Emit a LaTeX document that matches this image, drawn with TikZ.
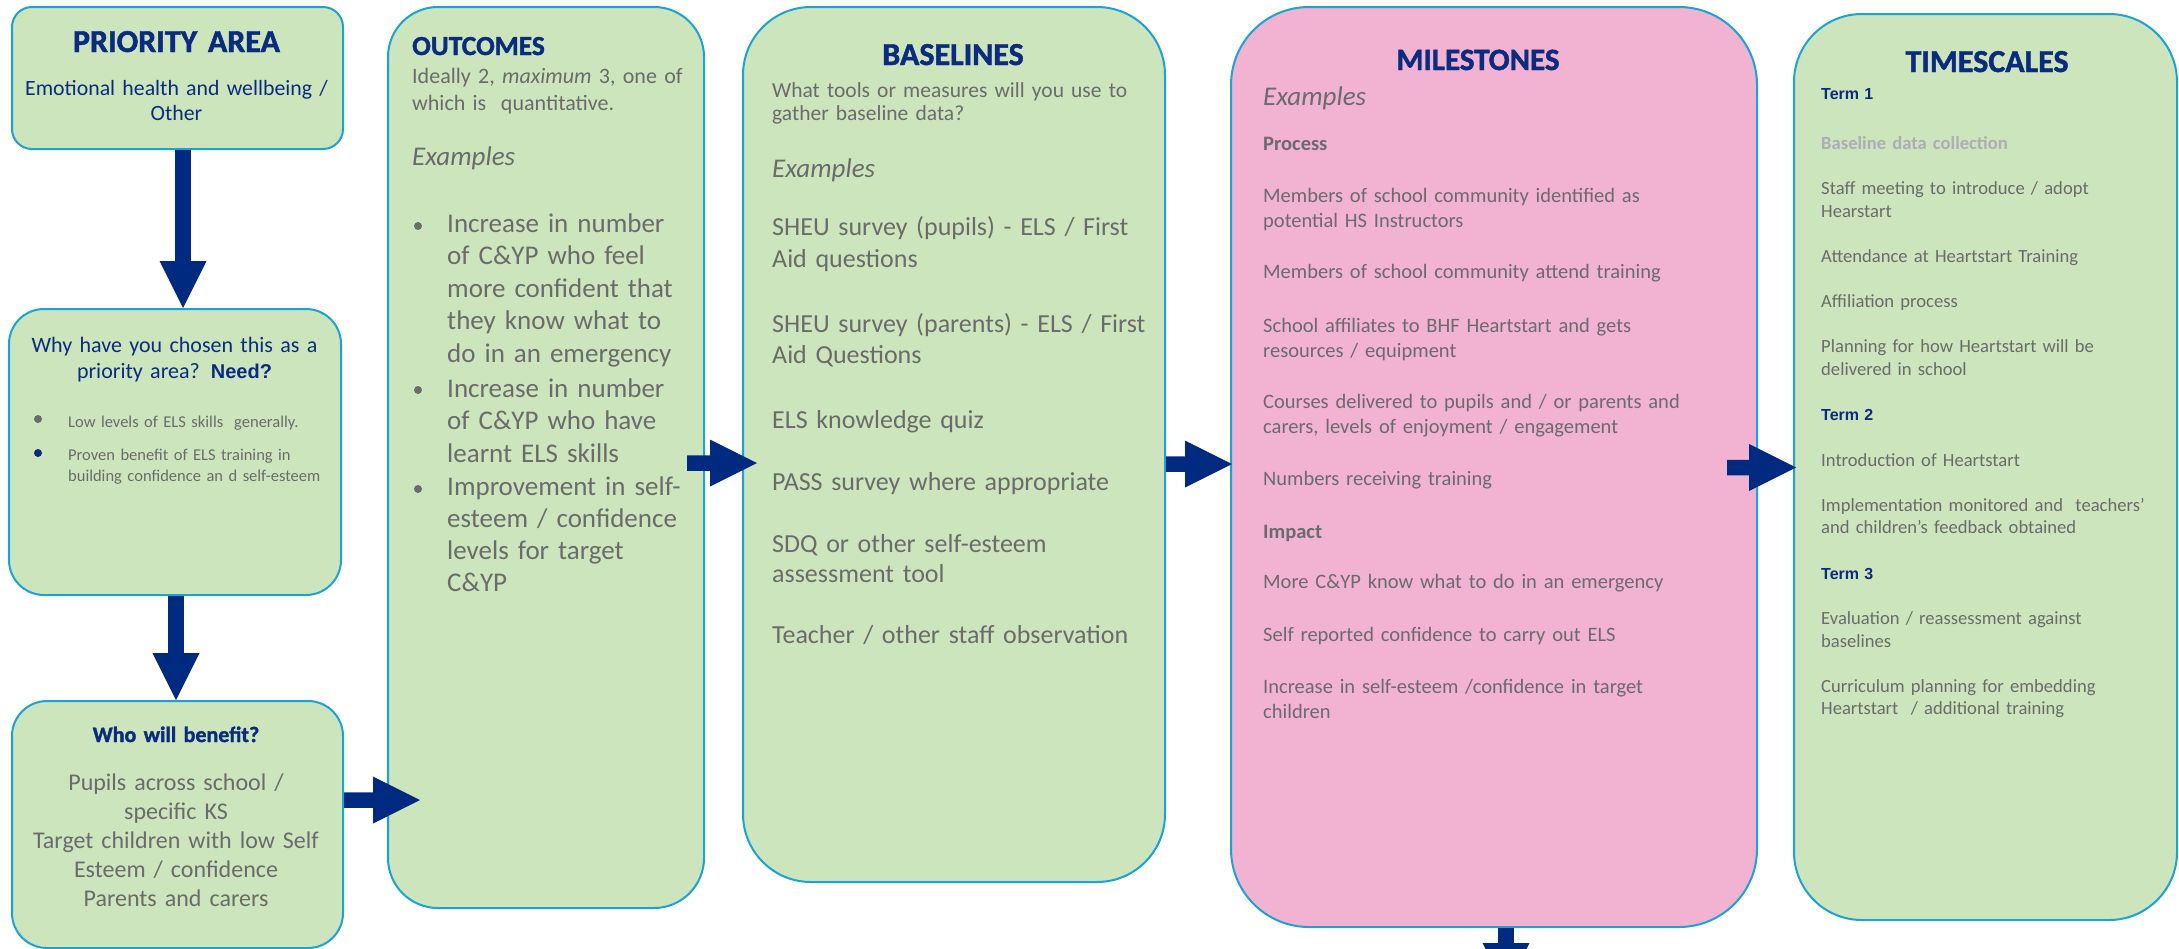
\documentclass[tikz,border=0pt]{standalone}
\usepackage{fontspec}
\setmainfont{Carlito}
\newfontfamily\arialf{Liberation Sans}
\newfontfamily\heavyf{Carlito}[BoldFeatures={FakeBold=1.5}]
\usetikzlibrary{arrows.meta,calc}
\definecolor{greenf}{HTML}{CCE5BC}
\definecolor{pinkf}{HTML}{F2B2D2}
\definecolor{bordc}{HTML}{1AA3D4}
\definecolor{arrowblue}{HTML}{002A80}
\definecolor{navyt}{HTML}{0B2C7E}
\definecolor{greyt}{HTML}{6B6B6B}
\definecolor{lgreyt}{HTML}{ADADB5}
\newcommand\fsz[2]{\fontsize{#1bp}{#2bp}\selectfont}
\tikzset{
  box/.style={draw=bordc, line width=2bp, rectangle, anchor=north west, inner sep=0pt},
  gbox/.style={box, fill=greenf},
  pbox/.style={box, fill=pinkf},
  lft/.style={inner sep=0pt, anchor=base west, align=left, text width=600bp},
  ctr/.style={inner sep=0pt, anchor=base, align=center, text width=600bp},
  dot/.style={circle, fill=#1, inner sep=0pt, minimum size=8bp},
  bigarrow/.style={draw=arrowblue, line width=15.5bp, -{Triangle[length=47bp,width=47bp,line width=0pt]}}
}
\begin{document}
\begin{tikzpicture}[x=1bp,y=-1bp]
\useasboundingbox (0,0) rectangle (2179,948);
\fill[white] (0,0) rectangle (2179,948);

% boxes
\node[gbox, rounded corners=20bp, minimum width=331bp, minimum height=142bp] (prio) at (11,6) {};
\node[gbox, rounded corners=35bp, minimum width=332bp, minimum height=286bp] (why) at (8,308) {};
\node[gbox, rounded corners=35bp, minimum width=331bp, minimum height=247bp] (who) at (11,700) {};
\node[gbox, rounded corners=50bp, minimum width=316bp, minimum height=901bp] (outc) at (387,6) {};
\node[gbox, rounded corners=68bp, minimum width=422bp, minimum height=875bp] (base) at (742,6) {};
\node[pbox, rounded corners=78bp, minimum width=526bp, minimum height=920bp] (mile) at (1230,6) {};
\node[gbox, rounded corners=68bp, minimum width=383bp, minimum height=906bp] (time) at (1793,13) {};

% priority area
\node[ctr, text=navyt, font=\heavyf\bfseries\fsz{32}{36}] (t1) at (176.5,52) {PRIORITY AREA};
\node[ctr, text=navyt, font=\fsz{21.8}{25}] (t1b) at (176.5,95) {Emotional health and wellbeing /\\Other};

% why
\node[ctr, text=navyt, font=\fsz{22}{26}] (t2) at (174.5,352) {Why have you chosen this as a\\priority area? {\arialf\bfseries\fsz{20}{26}Need?}};
\node[dot=greyt] (d21) at (38,419) {};
\node[dot=navyt] (d22) at (38,453) {};
\node[lft, text=greyt, font=\fsz{16.5}{21}] (t2a) at (68,427) {Low levels of ELS skills\ \ generally.};
\node[lft, text=greyt, font=\fsz{16.5}{21}] (t2b) at (68,460) {Proven benefit of ELS training in\\building confidence an d self-esteem};

% who
\node[ctr, text=navyt, font=\heavyf\bfseries\fsz{22}{26}] (t3) at (176,742) {Who will benefit?};
\node[ctr, text=greyt, font=\fsz{24}{29}] (t3b) at (176,790) {Pupils across school /\\specific KS\\Target children with low Self\\Esteem / confidence\\Parents and carers};

% outcomes
\node[lft, text=navyt, font=\heavyf\bfseries\fsz{27.5}{30}] (t4) at (412,55) {OUTCOMES};
\node[lft, text=greyt, font=\fsz{22}{27}] (t4a) at (412,83) {Ideally 2, \textit{maximum} 3, one of\\which is\ \ quantitative.};
\node[lft, text=greyt, font=\itshape\fsz{27}{30}] (t4b) at (412,165) {Examples};
\node[dot=greyt] (d41) at (418,226) {};
\node[dot=greyt] (d42) at (418,390) {};
\node[dot=greyt] (d43) at (418,489) {};
\node[lft, text=greyt, font=\fsz{27}{32.5}] (t4c) at (447,232) {Increase in number\\of C\&YP who feel\\more confident that\\they know what to\\do in an emergency};
\node[lft, text=greyt, font=\fsz{27}{32.5}] (t4d) at (447,397) {Increase in number\\of C\&YP who have\\learnt ELS skills};
\node[lft, text=greyt, font=\fsz{27}{32}] (t4e) at (447,495) {Improvement in self-\\esteem / confidence\\levels for target\\C\&YP};

% baselines
\node[ctr, text=navyt, font=\heavyf\bfseries\fsz{32}{36}] (t5) at (953,65) {BASELINES};
\node[lft, text=greyt, font=\fsz{21.5}{23}] (t5a) at (772,97) {What tools or measures will you use to\\gather baseline data?};
\node[lft, text=greyt, font=\itshape\fsz{27}{30}] (t5b) at (772,177) {Examples};
\node[lft, text=greyt, font=\fsz{26}{32}] (t5c) at (772,235) {SHEU survey (pupils) - ELS / First\\Aid questions};
\node[lft, text=greyt, font=\fsz{26}{31}] (t5d) at (772,332) {SHEU survey (parents) - ELS / First\\Aid Questions};
\node[lft, text=greyt, font=\fsz{26}{31}] (t5e) at (772,428) {ELS knowledge quiz};
\node[lft, text=greyt, font=\fsz{26}{31}] (t5f) at (772,490) {PASS survey where appropriate};
\node[lft, text=greyt, font=\fsz{26}{30}] (t5g) at (772,552) {SDQ or other self-esteem\\assessment tool};
\node[lft, text=greyt, font=\fsz{26}{31}] (t5h) at (772,643) {Teacher / other staff observation};

% milestones
\node[ctr, text=navyt, font=\heavyf\bfseries\fsz{31}{36}] (t6) at (1478,70) {MILESTONES};
\node[lft, text=greyt, font=\itshape\fsz{27}{30}] (t6a) at (1263,105) {Examples};
\node[lft, text=greyt, font=\bfseries\fsz{20.5}{25.5}] (t6b) at (1263,150) {Process};
\node[lft, text=greyt, font=\fsz{20.5}{25.5}] (t6c) at (1263,202) {Members of school community identified as\\potential HS Instructors};
\node[lft, text=greyt, font=\fsz{20.5}{25.5}] (t6d) at (1263,278) {Members of school community attend training};
\node[lft, text=greyt, font=\fsz{20.5}{25.5}] (t6e) at (1263,332) {School affiliates to BHF Heartstart and gets\\resources / equipment};
\node[lft, text=greyt, font=\fsz{20.5}{25.5}] (t6f) at (1263,408) {Courses delivered to pupils and / or parents and\\carers, levels of enjoyment / engagement};
\node[lft, text=greyt, font=\fsz{20.5}{25.5}] (t6g) at (1263,485) {Numbers receiving training};
\node[lft, text=greyt, font=\bfseries\fsz{20.5}{25.5}] (t6h) at (1263,538) {Impact};
\node[lft, text=greyt, font=\fsz{20.5}{25.5}] (t6i) at (1263,588) {More C\&YP know what to do in an emergency};
\node[lft, text=greyt, font=\fsz{20.5}{25.5}] (t6j) at (1263,641) {Self reported confidence to carry out ELS};
\node[lft, text=greyt, font=\fsz{20.5}{25.5}] (t6k) at (1263,693) {Increase in self-esteem /confidence in target\\children};

% timescales
\node[ctr, text=navyt, font=\heavyf\bfseries\fsz{32}{36}] (t7) at (1987,72) {TIMESCALES};
\node[lft, text=navyt, font=\arialf\bfseries\fsz{16}{20}] (t7a) at (1821,99) {Term 1};
\node[lft, text=lgreyt, font=\bfseries\fsz{18.6}{23}] (t7b) at (1821,149) {Baseline data collection};
\node[lft, text=greyt, font=\fsz{18.6}{23}] (t7c) at (1821,194) {Staff meeting to introduce / adopt\\Hearstart};
\node[lft, text=greyt, font=\fsz{18.6}{23}] (t7d) at (1821,262) {Attendance at Heartstart Training};
\node[lft, text=greyt, font=\fsz{18.6}{23}] (t7e) at (1821,307) {Affiliation process};
\node[lft, text=greyt, font=\fsz{18.6}{23}] (t7f) at (1821,352) {Planning for how Heartstart will be\\delivered in school};
\node[lft, text=navyt, font=\arialf\bfseries\fsz{16}{20}] (t7g) at (1821,420) {Term 2};
\node[lft, text=greyt, font=\fsz{18.6}{23}] (t7h) at (1821,466) {Introduction of Heartstart};
\node[lft, text=greyt, font=\fsz{18.6}{22}] (t7i) at (1821,511) {Implementation monitored and\ \ teachers’\\and children’s feedback obtained};
\node[lft, text=navyt, font=\arialf\bfseries\fsz{16}{20}] (t7j) at (1821,579) {Term 3};
\node[lft, text=greyt, font=\fsz{18.6}{23}] (t7k) at (1821,624) {Evaluation / reassessment against\\baselines};
\node[lft, text=greyt, font=\fsz{18.6}{22}] (t7l) at (1821,692) {Curriculum planning for embedding\\Heartstart\ \ / additional training};

% arrow end points
\coordinate (a1s) at ($(prio.south)+(5.5,0)$);
\coordinate (a2s) at ($(why.south)+(1,0)$);
\coordinate (a3s) at ($(who.east)+(0,-24.5)$);
\coordinate (a3e) at ($(outc.west)+(33,342.5)$);
\coordinate (a4s) at ($(outc.east)+(-18,5.5)$);
\coordinate (a4e) at ($(base.west)+(15,18.5)$);
\coordinate (a5s) at ($(base.east)+(0,19.5)$);
\coordinate (a5e) at ($(mile.west)+(2,-3)$);
\coordinate (a6s) at ($(mile.east)+(-31,0.5)$);
\coordinate (a6e) at ($(time.west)+(3,0.5)$);
\coordinate (a7s) at ($(mile.south)+(12,0)$);
\coordinate (a7e) at ($(mile.south)+(12,62)$);

\draw[bigarrow] (a1s) -- (a1s |- why.north);
\draw[bigarrow] (a2s) -- (a2s |- who.north);
\draw[bigarrow] (a3s) -- (a3e);
\draw[bigarrow] (a4s) -- (a4e);
\draw[bigarrow] (a5s) -- (a5e);
\draw[bigarrow] (a6s) -- (a6e);
\draw[bigarrow] (a7s) -- (a7e);
\end{tikzpicture}
\end{document}
